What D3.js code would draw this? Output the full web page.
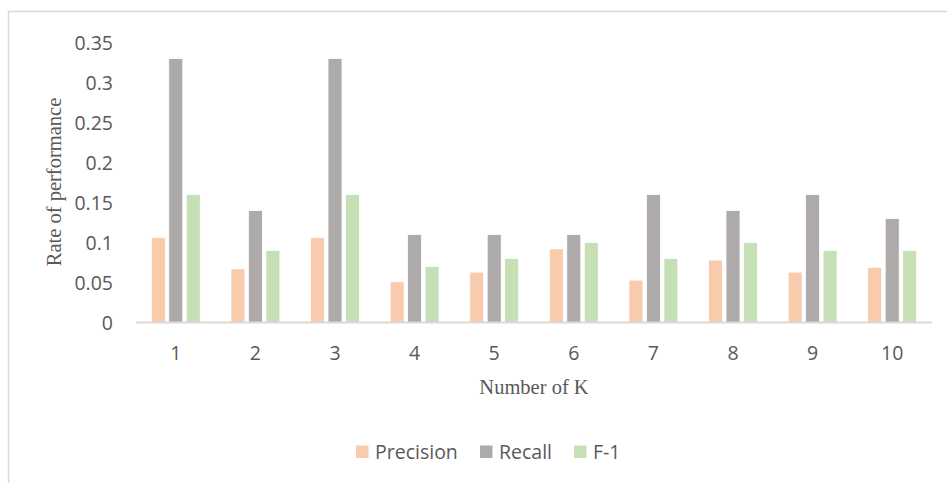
<!DOCTYPE html>
<html>
<head>
<meta charset="utf-8">
<script src="https://cdn.jsdelivr.net/npm/d3@7"></script>
<style>
  html, body { margin: 0; padding: 0; background: #fff; }
  svg { display: block; }
</style>
</head>
<body>
<svg id="chart" width="947" height="483"></svg>
<script>
// Categories (number of neighbours K) and the three metric series
const categories = ["1", "2", "3", "4", "5", "6", "7", "8", "9", "10"];
const seriesNames = ["Precision", "Recall", "F-1"];
const precision = [0.106, 0.067, 0.106, 0.051, 0.063, 0.092, 0.053, 0.078, 0.063, 0.069];
const recall    = [0.33, 0.14, 0.33, 0.11, 0.11, 0.11, 0.16, 0.14, 0.16, 0.13];
const f1        = [0.16, 0.09, 0.16, 0.07, 0.08, 0.10, 0.08, 0.10, 0.09, 0.09];
const yTicks = [0, 0.05, 0.1, 0.15, 0.2, 0.25, 0.3, 0.35];
const yTickLabels = ["0", "0.05", "0.1", "0.15", "0.2", "0.25", "0.3", "0.35"];

const colors = { "Precision": "#F8CBAD", "Recall": "#AEAAAA", "F-1": "#C5E0B4" };
const values = { "Precision": precision, "Recall": recall, "F-1": f1 };
const rows = categories.map((c, i) => ({ k: c, vals: seriesNames.map(s => ({ s, v: values[s][i] })) }));

const svg = d3.select("#chart");
const textColor = "#595959";
const sans = "'Open Sans', 'Liberation Sans', sans-serif";
const serif = "'Liberation Serif', 'Times New Roman', serif";
const labelSize = 19.5;

// Chart frame
svg.append("rect")
  .attr("x", 8.5).attr("y", 11.5)
  .attr("width", 1200).attr("height", 1200)
  .attr("fill", "none").attr("stroke", "#D9D9D9").attr("stroke-width", 1.5);

const plot = { left: 136, right: 932, top: 42.5, bottom: 322.5 };

const x0 = d3.scaleBand().domain(categories)
  .range([plot.left, plot.right]).paddingInner(0.385).paddingOuter(0.1925);
const x1 = d3.scaleBand().domain(seriesNames)
  .range([0, x0.bandwidth()]).paddingInner(0.2);
const y = d3.scaleLinear().domain([0, 0.35]).range([plot.bottom, plot.top]);

// Bars
const groups = svg.append("g").selectAll("g").data(rows).join("g")
  .attr("transform", d => `translate(${x0(d.k)},0)`);
groups.selectAll("rect").data(d => d.vals).join("rect")
  .attr("x", d => x1(d.s))
  .attr("y", d => y(d.v))
  .attr("width", x1.bandwidth())
  .attr("height", d => y(0) - y(d.v))
  .attr("fill", d => colors[d.s])
  .attr("stroke", "#ffffff").attr("stroke-width", 0.8);

// Y axis labels (no axis line)
const yAxis = d3.axisLeft(y).tickValues(yTicks)
  .tickFormat((d, i) => yTickLabels[i]).tickSize(0).tickPadding(0);
const gy = svg.append("g").attr("transform", "translate(113,0)").call(yAxis);
gy.select(".domain").remove();
gy.selectAll("text")
  .attr("fill", textColor).attr("font-family", sans).attr("font-size", labelSize)
  .attr("dy", "0.35em");

// X axis
const xAxis = d3.axisBottom(x0).tickSize(0).tickPadding(0);
const gx = svg.append("g").attr("transform", `translate(0,${plot.bottom})`).call(xAxis);
gx.select(".domain").attr("stroke", "#D9D9D9").attr("stroke-width", 1.8)
  .attr("d", `M${plot.left},0H${plot.right}`);
gx.selectAll("text")
  .attr("fill", textColor).attr("font-family", sans).attr("font-size", labelSize)
  .attr("y", 31).attr("dy", "0.35em");

// Axis titles
svg.append("text")
  .attr("x", 534).attr("y", 387).attr("dy", "0.35em")
  .attr("text-anchor", "middle")
  .attr("fill", textColor).attr("font-family", serif).attr("font-size", 20.5)
  .text("Number of K");

svg.append("text")
  .attr("transform", "translate(54,182) rotate(-90)")
  .attr("dy", "0.35em")
  .attr("text-anchor", "middle")
  .attr("fill", textColor).attr("font-family", serif).attr("font-size", 20.5)
  .text("Rate of performance");

// Legend
const legendX = [356, 480, 574];
const legend = svg.append("g").selectAll("g").data(seriesNames).join("g")
  .attr("transform", (d, i) => `translate(${legendX[i]},452)`);
legend.append("rect")
  .attr("x", 0).attr("y", -6.5).attr("width", 12.5).attr("height", 12.5)
  .attr("fill", d => colors[d]);
legend.append("text")
  .attr("x", 19).attr("y", 0).attr("dy", "0.35em")
  .attr("fill", textColor).attr("font-family", sans).attr("font-size", labelSize)
  .text(d => d);
</script>
</body>
</html>
